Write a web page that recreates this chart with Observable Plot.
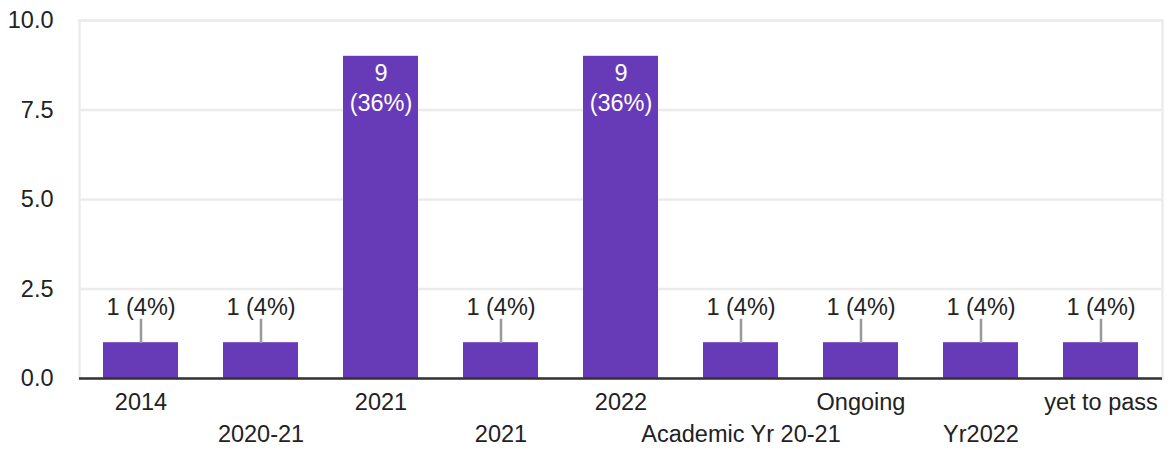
<!DOCTYPE html>
<html>
<head>
<meta charset="utf-8">
<script src="https://cdn.jsdelivr.net/npm/d3@7"></script>
<script src="https://cdn.jsdelivr.net/npm/@observablehq/plot@0.6"></script>
<style>
  html, body { margin: 0; padding: 0; background: #fff; }
  #chart svg { display: block; }
</style>
</head>
<body>
<div id="chart"></div>
<script>
const categories = ["2014", "2020-21", "2021", "2021", "2022", "Academic Yr 20-21", "Ongoing", "Yr2022", "yet to pass"];
const counts = [1, 1, 9, 1, 9, 1, 1, 1, 1];
const percents = [4, 4, 36, 4, 36, 4, 4, 4, 4];
const yTicks = [0, 2.5, 5, 7.5, 10];

const data = categories.map((label, i) => ({
  key: String(i), label, count: counts[i], pct: percents[i], row: i % 2
}));
const tall = data.filter(d => d.count >= 5);
const small = data.filter(d => d.count < 5);

const FONT = "'Liberation Sans', Arial, sans-serif";
const FS = 23.5;

const leader = {
  draw(context) { context.moveTo(0, 0); context.lineTo(0, -24); }
};

const chart = Plot.plot({
  width: 1171,
  height: 453,
  marginLeft: 79,
  marginRight: 9,
  marginTop: 20,
  marginBottom: 75,
  style: { fontFamily: FONT, fontSize: FS + "px", color: "#222", background: "#fff" },
  x: { type: "band", domain: data.map(d => d.key), paddingInner: 0.375, paddingOuter: 0.19, axis: null },
  y: { domain: [0, 10], axis: null },
  marks: [
    Plot.gridY(yTicks, { stroke: "#ebebeb", strokeOpacity: 1, strokeWidth: 2.5 }),
    Plot.frame({ stroke: "#ebebeb", strokeWidth: 2.5 }),
    Plot.axisY(yTicks, { tickSize: 0, tickPadding: 26, tickFormat: d3.format(".1f"), fontSize: FS, fill: "#222", label: null }),
    Plot.barY(data, { x: "key", y: "count", fill: "#673ab7" }),
    Plot.ruleY([0], { stroke: "#333", strokeWidth: 2.7 }),
    Plot.dot(small, { x: "key", y: "count", symbol: leader, stroke: "#999", strokeWidth: 2.5, fill: "none" }),
    Plot.text(small, { x: "key", y: "count", text: d => `${d.count} (${d.pct}%)`, dy: -35, fill: "#222", fontSize: FS }),
    Plot.text(tall, { x: "key", y: "count", text: d => `${d.count}\n(${d.pct}%)`, dy: 30, lineAnchor: "middle", lineHeight: 1.28, fill: "#fff", fontSize: FS }),
    Plot.text(data.filter(d => d.row === 0), { x: "key", frameAnchor: "bottom", dy: 31, text: "label", fill: "#222", fontSize: FS }),
    Plot.text(data.filter(d => d.row === 1), { x: "key", frameAnchor: "bottom", dy: 63, text: "label", fill: "#222", fontSize: FS })
  ]
});
document.getElementById("chart").appendChild(chart);
</script>
</body>
</html>
